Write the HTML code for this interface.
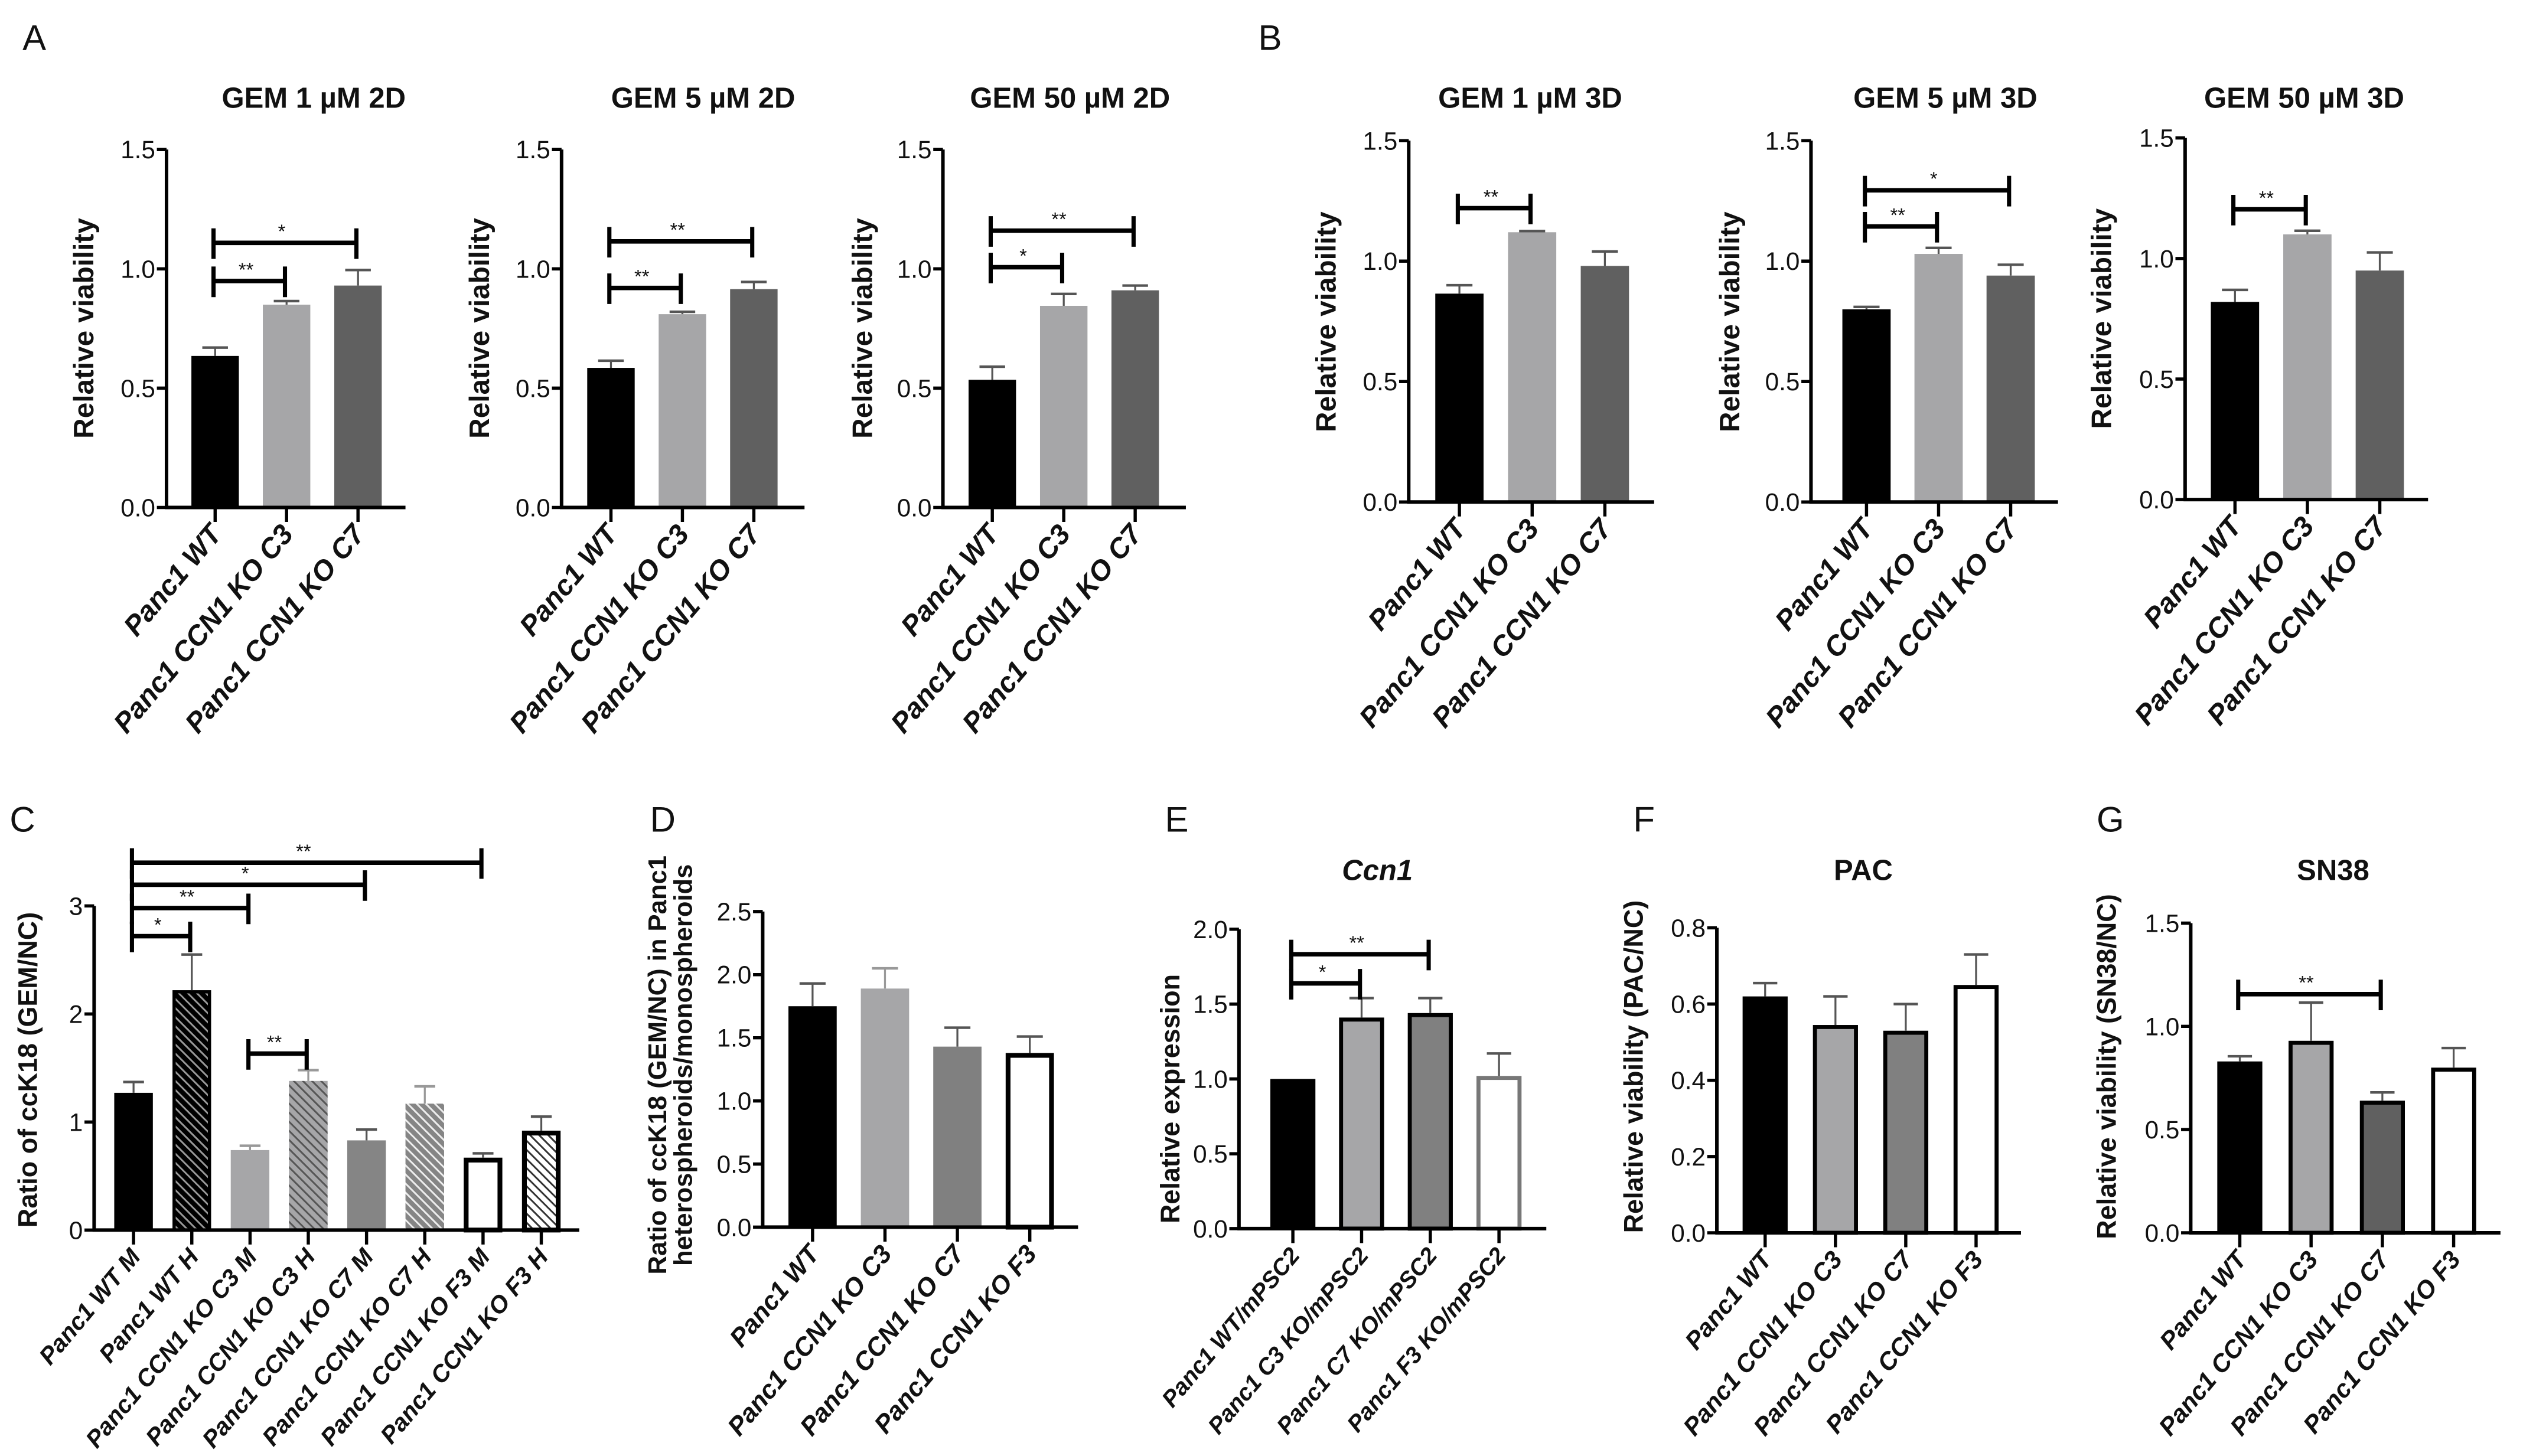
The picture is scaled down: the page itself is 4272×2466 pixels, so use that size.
<!DOCTYPE html>
<html><head><meta charset="utf-8"><style>
html,body{margin:0;padding:0;background:#fff;}
svg{display:block;}
text{font-family:"Liberation Sans",sans-serif;}
.tk{font-family:"Liberation Sans Narrow","Liberation Sans",sans-serif;font-size:15.5px;fill:#111;}
.yl{font-weight:bold;fill:#111;}
.xl{font-weight:bold;font-style:italic;fill:#111;}
.tt{font-weight:bold;font-size:18px;fill:#111;}
.pl{font-size:22px;fill:#111;}
.st{font-size:12px;fill:#111;}
</style></head><body>
<svg id="fig" xmlns="http://www.w3.org/2000/svg" width="4272" height="2466" viewBox="0 0 1568 905">
<defs>
<pattern id="hBlack" patternUnits="userSpaceOnUse" width="4" height="4" patternTransform="rotate(-45)"><rect width="4" height="4" fill="#000"/><line x1="2" y1="0" x2="2" y2="4" stroke="#999" stroke-width="1.1"/></pattern>
<pattern id="hLight" patternUnits="userSpaceOnUse" width="4" height="4" patternTransform="rotate(-45)"><rect width="4" height="4" fill="#a6a6a8"/><line x1="2" y1="0" x2="2" y2="4" stroke="#555" stroke-width="1.1"/></pattern>
<pattern id="hGray" patternUnits="userSpaceOnUse" width="4" height="4" patternTransform="rotate(-45)"><rect width="4" height="4" fill="#858585"/><line x1="2" y1="0" x2="2" y2="4" stroke="#eee" stroke-width="1.1"/></pattern>
<pattern id="hWhite" patternUnits="userSpaceOnUse" width="4" height="4" patternTransform="rotate(-45)"><rect width="4" height="4" fill="#fff"/><line x1="2" y1="0" x2="2" y2="4" stroke="#333" stroke-width="1.1"/></pattern>
</defs>
<text class="pl" x="14" y="31">A</text>
<text class="pl" x="782" y="31">B</text>
<text class="pl" x="6" y="517">C</text>
<text class="pl" x="404" y="517">D</text>
<text class="pl" x="724" y="517">E</text>
<text class="pl" x="1015" y="517">F</text>
<text class="pl" x="1303" y="517">G</text>
</svg>
<script>
// ---- data ----
const catsABC3 = ["Panc1 WT","Panc1 CCN1 KO C3","Panc1 CCN1 KO C7"];
const a1Values = [0.635,0.85,0.93];  const a1Errors = [0.67,0.865,0.995];
const a2Values = [0.585,0.81,0.915]; const a2Errors = [0.615,0.82,0.945];
const a3Values = [0.535,0.845,0.91]; const a3Errors = [0.59,0.895,0.93];
const b1Values = [0.865,1.12,0.98];  const b1Errors = [0.9,1.125,1.04];
const b2Values = [0.80,1.03,0.94];   const b2Errors = [0.81,1.055,0.985];
const b3Values = [0.82,1.10,0.95];   const b3Errors = [0.87,1.115,1.025];
const vTicks15 = [0,0.5,1,1.5]; const vTickLabels15 = ["0.0","0.5","1.0","1.5"];
const cCats = ["Panc1 WT M","Panc1 WT H","Panc1 CCN1 KO C3 M","Panc1 CCN1 KO C3 H","Panc1 CCN1 KO C7 M","Panc1 CCN1 KO C7 H","Panc1 CCN1 KO F3 M","Panc1 CCN1 KO F3 H"];
const cValues = [1.27,2.22,0.74,1.38,0.83,1.17,0.67,0.92];
const cErrors = [1.37,2.55,0.78,1.48,0.93,1.33,0.71,1.05];
const cTicks = [0,1,2,3]; const cTickLabels = ["0","1","2","3"];
const cats4 = ["Panc1 WT","Panc1 CCN1 KO C3","Panc1 CCN1 KO C7","Panc1 CCN1 KO F3"];
const dValues = [1.75,1.89,1.43,1.38]; const dErrors = [1.93,2.05,1.58,1.51];
const dTicks = [0,0.5,1,1.5,2,2.5]; const dTickLabels = ["0.0","0.5","1.0","1.5","2.0","2.5"];
const eCats = ["Panc1 WT/mPSC2","Panc1 C3 KO/mPSC2","Panc1 C7 KO/mPSC2","Panc1 F3 KO/mPSC2"];
const eValues = [1.0,1.41,1.44,1.02]; const eErrors = [1.0,1.54,1.54,1.17];
const eTicks = [0,0.5,1,1.5,2]; const eTickLabels = ["0.0","0.5","1.0","1.5","2.0"];
const fValues = [0.62,0.545,0.53,0.65]; const fErrors = [0.655,0.62,0.6,0.73];
const fTicks = [0,0.2,0.4,0.6,0.8]; const fTickLabels = ["0.0","0.2","0.4","0.6","0.8"];
const gValues = [0.83,0.93,0.64,0.80]; const gErrors = [0.855,1.115,0.68,0.895];
// significance: [from, to, level, stars]
const a1Sig = [[0,1,0.949,"**"],[0,2,1.109,"*"]];
const a2Sig = [[0,1,0.92,"**"],[0,2,1.115,"**"]];
const a3Sig = [[0,1,1.007,"*"],[0,2,1.16,"**"]];
const b1Sig = [[0,1,1.22,"**"]];
const b2Sig = [[0,1,1.144,"**"],[0,2,1.294,"*"]];
const b3Sig = [[0,1,1.204,"**"]];
const cSig = [[0,1,2.72,"*"],[0,2,2.98,"**"],[0,4,3.196,"*"],[0,6,3.40,"**"],[2,3,1.633,"**"]];
const eSig = [[0,1,1.638,"*"],[0,2,1.833,"**"]];
const gSig = [[0,2,1.156,"**"]];

const NS="http://www.w3.org/2000/svg";
const svg=document.getElementById('fig');
function mk(tag,attrs,parent){const e=document.createElementNS(NS,tag);for(const k in attrs)e.setAttribute(k,attrs[k]);(parent||svg).appendChild(e);return e;}

const S3 = [{f:"#000"},{f:"#a6a6a8"},{f:"#606060"}];
function panel(c){
  const g=mk('g',{});
  
  
  const y=v=>c.y0-(v/c.vmax)*(c.y0-c.ytop);
  const xc=i=>c.x0+i*c.dx;
  const ya=mk('line',{x1:c.ax,y1:c.y0,x2:c.ax,y2:c.ytop,stroke:"#000","stroke-width":2.2},g);
  
  
  c.ticks.forEach((t,i)=>{
    mk('line',{x1:c.ax-6,y1:y(t),x2:c.ax,y2:y(t),stroke:"#000","stroke-width":2},g);
    const tl=mk('text',{x:c.ax-7,y:y(t)+5.5,"text-anchor":"end",class:"tk"},g);
    tl.textContent=c.tickLabels[i];
    
    
  });
  c.values.forEach((v,i)=>{
    const st=c.styles[i];
    const sw=st.s?st.w||2.5:0;
    const r=mk('rect',{x:xc(i)-c.bw/2+sw/2,y:y(v)+sw/2,width:c.bw-sw,height:Math.max(0,y(0)-y(v)-sw/2),fill:st.f,stroke:st.s||"none","stroke-width":sw},g);
    
    
    if(c.errors[i]>v){
      const ec=st.e||"#555";
      mk('line',{x1:xc(i),y1:y(v),x2:xc(i),y2:y(c.errors[i]),stroke:ec,"stroke-width":1.2},g);
      const cap=mk('line',{x1:xc(i)-c.bw*0.27,y1:y(c.errors[i]),x2:xc(i)+c.bw*0.27,y2:y(c.errors[i]),stroke:ec,"stroke-width":1.6},g);
      
      
    }
  });
  const xa=mk('line',{x1:c.ax-1,y1:c.y0,x2:c.xEnd,y2:c.y0,stroke:"#000","stroke-width":2.2},g);
  
  
  c.cats.forEach((n,i)=>{
    mk('line',{x1:xc(i),y1:c.y0,x2:xc(i),y2:c.y0+9,stroke:"#000","stroke-width":2},g);
    const lx=xc(i)+5, ly=c.y0+17;
    const t=mk('text',{x:lx,y:ly,"text-anchor":"end",class:"xl","font-size":c.xfs,transform:`rotate(-50 ${lx} ${ly})`},g);
    t.textContent=n;
    
    
  });
  c.sig.forEach(s=>{
    const x1=xc(s[0])-1,x2=xc(s[1])-1,yy=y(s[2]);
    mk('line',{x1:x1,y1:yy,x2:x2,y2:yy,stroke:"#000","stroke-width":2.8},g);
    mk('line',{x1:x1,y1:yy-9,x2:x1,y2:yy+10,stroke:"#000","stroke-width":2.6},g);
    mk('line',{x1:x2,y1:yy-9,x2:x2,y2:yy+10,stroke:"#000","stroke-width":2.6},g);
    const t=mk('text',{x:(x1+x2)/2-2,y:yy-3,"text-anchor":"middle",class:"st"},g);
    t.textContent=s[3];
    
    
  });
  if(c.title){
    const t=mk('text',{x:c.tx,y:c.ty,"text-anchor":"middle",class:"tt","font-style":c.titleItalic?"italic":"normal"},g);
    t.textContent=c.title;
    
    
  }
  const yl=mk('text',{x:c.ylx,y:c.yly,"text-anchor":"middle",class:"yl",transform:`rotate(-90 ${c.ylx} ${c.yly})`,style:`font-size:${c.ylfs||15}px`},g);
  
  
  c.ylabel.forEach((line,k)=>{const ts=mk('tspan',{x:c.ylx,dy:k===0?0:16},yl);ts.textContent=line;});
}
const base3={cats:catsABC3,ticks:vTicks15,tickLabels:vTickLabels15,vmax:1.5,bw:29.5,dx:44.4,xfs:17.5,styles:S3,ylabel:["Relative viability"],ylfs:17.5};
panel(Object.assign({},base3,{name:"chart-gem-1um-2d",ax:103.5,y0:315.4,ytop:92.9,x0:133.7,xEnd:252,values:a1Values,errors:a1Errors,sig:a1Sig,title:"GEM 1 µM 2D",tx:195,ty:67,ylx:58,yly:204}));
panel(Object.assign({},base3,{name:"chart-gem-5um-2d",ax:349,y0:315.4,ytop:92.9,x0:379.7,xEnd:500,values:a2Values,errors:a2Errors,sig:a2Sig,title:"GEM 5 µM 2D",tx:437,ty:67,ylx:304,yly:204}));
panel(Object.assign({},base3,{name:"chart-gem-50um-2d",ax:586,y0:315.4,ytop:92.9,x0:616.7,xEnd:737,values:a3Values,errors:a3Errors,sig:a3Sig,title:"GEM 50 µM 2D",tx:665,ty:67,ylx:542,yly:204}));
panel(Object.assign({},base3,{name:"chart-gem-1um-3d",ax:875.5,y0:312,ytop:87.4,x0:907,dx:45.2,bw:30,xEnd:1028,values:b1Values,errors:b1Errors,sig:b1Sig,title:"GEM 1 µM 3D",tx:951,ty:67,ylx:830,yly:200}));
panel(Object.assign({},base3,{name:"chart-gem-5um-3d",ax:1125.5,y0:312,ytop:87.4,x0:1160,dx:44.8,bw:30,xEnd:1279,values:b2Values,errors:b2Errors,sig:b2Sig,title:"GEM 5 µM 3D",tx:1209,ty:67,ylx:1081,yly:200}));
panel(Object.assign({},base3,{name:"chart-gem-50um-3d",ax:1358,y0:310.5,ytop:85.7,x0:1389,dx:45,bw:30,xEnd:1509,values:b3Values,errors:b3Errors,sig:b3Sig,title:"GEM 50 µM 3D",tx:1432,ty:67,ylx:1312,yly:198}));
panel({name:"chart-cck18-ratio",cats:cCats,ticks:cTicks,tickLabels:cTickLabels,vmax:3,ax:58.5,y0:764.6,ytop:563.1,x0:83,dx:36.2,bw:24,xEnd:360,xfs:15,
  values:cValues,errors:cErrors,sig:cSig,
  styles:[{f:"#000"},{f:"url(#hBlack)",s:"#000",w:2},{f:"#a6a6a8",e:"#999"},{f:"url(#hLight)",e:"#999"},{f:"#858585"},{f:"url(#hGray)",e:"#999"},{f:"#fff",s:"#000",w:3},{f:"url(#hWhite)",s:"#000",w:3}],
  ylabel:["Ratio of ccK18 (GEM/NC)"],ylx:23,yly:665,ylfs:16.5});
panel({name:"chart-cck18-hetero-mono",cats:cats4,ticks:dTicks,tickLabels:dTickLabels,vmax:2.5,ax:474,y0:762.8,ytop:566.6,x0:505,dx:45,bw:30,xEnd:670,xfs:16,
  values:dValues,errors:dErrors,sig:[],
  styles:[{f:"#000"},{f:"#a6a6a8",e:"#999"},{f:"#808080"},{f:"#fff",s:"#000",w:3}],
  ylabel:["Ratio of ccK18 (GEM/NC) in Panc1","heterospheroids/monospheroids"],ylx:414,yly:662,ylfs:16});
panel({name:"chart-ccn1-expression",cats:eCats,ticks:eTicks,tickLabels:eTickLabels,vmax:2,ax:770,y0:763.7,ytop:577.6,x0:803.5,dx:42.7,bw:28,xEnd:961,xfs:14.5,
  values:eValues,errors:eErrors,sig:eSig,title:"Ccn1",titleItalic:true,tx:856,ty:547,
  styles:[{f:"#000"},{f:"#a6a6a8",s:"#000",w:2.5},{f:"#808080",s:"#000",w:2.5},{f:"#fff",s:"#777",w:2.5}],
  ylabel:["Relative expression"],ylx:733,yly:683,ylfs:16.5});
panel({name:"chart-pac-viability",cats:cats4,ticks:fTicks,tickLabels:fTickLabels,vmax:0.8,ax:1067,y0:766.3,ytop:576.7,x0:1097,dx:43.7,bw:28,xEnd:1256,xfs:15.5,
  values:fValues,errors:fErrors,sig:[],title:"PAC",tx:1158,ty:547,
  styles:[{f:"#000"},{f:"#a6a6a8",s:"#000",w:2.5},{f:"#808080",s:"#000",w:2.5},{f:"#fff",s:"#000",w:2.5}],
  ylabel:["Relative viability (PAC/NC)"],ylx:1021,yly:663,ylfs:16.5});
panel({name:"chart-sn38-viability",cats:cats4,ticks:vTicks15,tickLabels:vTickLabels15,vmax:1.5,ax:1361.5,y0:766.3,ytop:573.8,x0:1392,dx:44.3,bw:28,xEnd:1554,xfs:15.5,
  values:gValues,errors:gErrors,sig:gSig,title:"SN38",tx:1450,ty:547,
  styles:[{f:"#000"},{f:"#a6a6a8",s:"#000",w:2.5},{f:"#606060",s:"#000",w:2.5},{f:"#fff",s:"#000",w:2.5}],
  ylabel:["Relative viability (SN38/NC)"],ylx:1315,yly:663,ylfs:16.5});
</script>
</body></html>
